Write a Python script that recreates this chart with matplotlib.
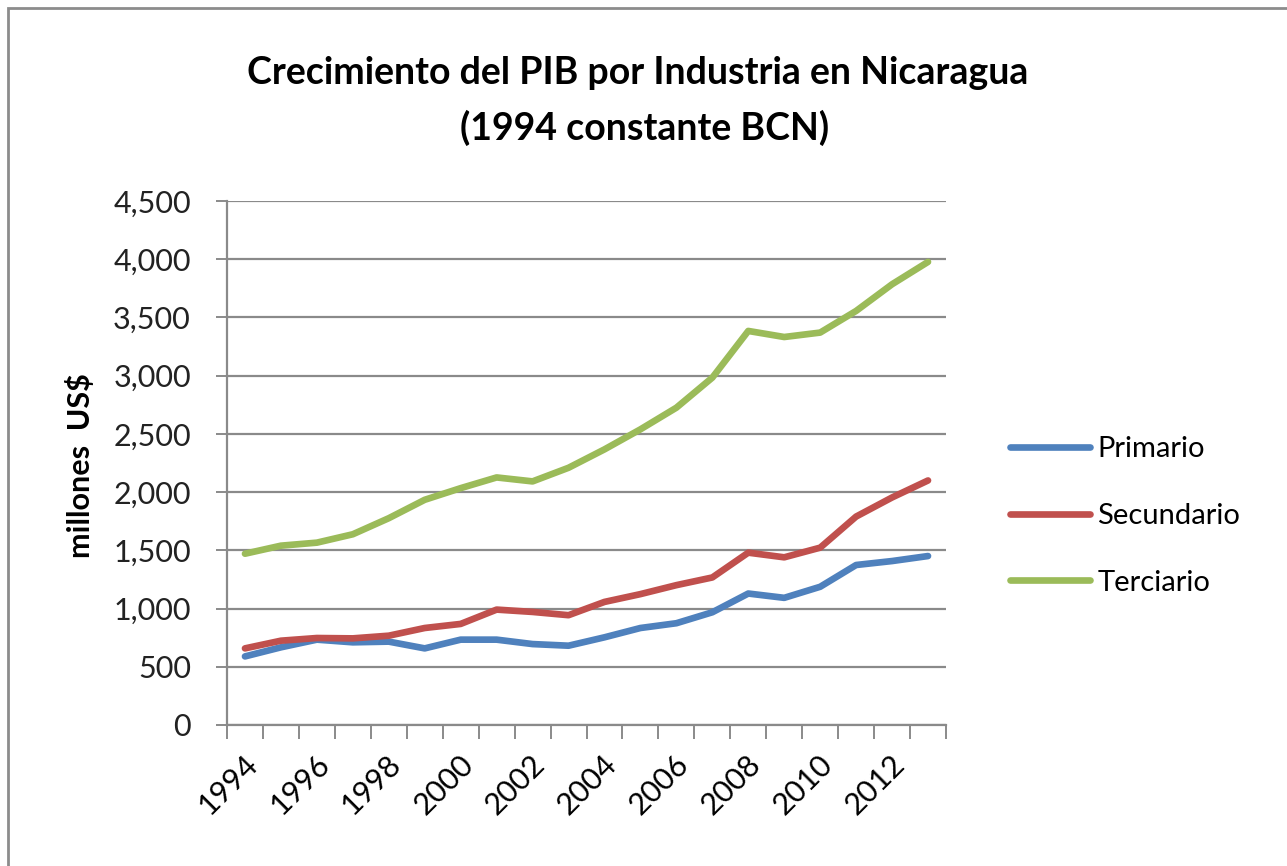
import matplotlib
matplotlib.use("Agg")
import matplotlib.pyplot as plt
import matplotlib.transforms as mtransforms
from matplotlib.patches import Rectangle
from matplotlib.ticker import FuncFormatter

years = list(range(1994, 2014))
primario = [589, 667, 733, 710, 716, 658, 733, 733, 695, 681,
            753, 833, 874, 968, 1129, 1092, 1187, 1374, 1408, 1451]
secundario = [658, 724, 747, 744, 767, 833, 868, 991, 971, 943,
              1057, 1124, 1201, 1267, 1480, 1440, 1523, 1790, 1954, 2100]
terciario = [1471, 1540, 1566, 1638, 1776, 1934, 2034, 2126, 2092, 2209,
             2367, 2539, 2725, 2983, 3384, 3332, 3370, 3556, 3785, 3977]
series = ["Primario", "Secundario", "Terciario"]
colors = ["#4F81BD", "#C0504D", "#9BBB59"]

plt.rcParams['font.family'] = ['Lato', 'DejaVu Sans']
W, H = 1287, 866

fig = plt.figure(figsize=(W / 100, H / 100), dpi=100)
# chart border
fig.patches.append(Rectangle((8 / W, -0.01), 1.02, (H - 8) / H + 0.01,
                             transform=fig.transFigure, fill=False,
                             edgecolor="#8c8c8c", linewidth=2))

ax = fig.add_axes([227 / W, 141 / H, 719 / W, 524 / H])
x = list(range(len(years)))
for name, vals, c in zip(series, [primario, secundario, terciario], colors):
    ax.plot(x, vals, color=c, linewidth=4.8, label=name, solid_capstyle="round")

ax.set_xlim(-0.5, len(years) - 0.5)
ax.set_ylim(0, 4500)
ax.set_yticks(range(0, 4501, 500))
ax.yaxis.set_major_formatter(FuncFormatter(lambda v, p: f"{int(v):,}"))
ax.grid(axis="y", color="#8a8a8a", linewidth=1.6)
ax.set_axisbelow(True)

ax.set_xticks(x[::2])
ax.set_xticklabels([str(y) for y in years[::2]], rotation=45, ha="right",
                   va="center", rotation_mode="anchor", fontsize=22)
ax.set_xticks([i - 0.5 for i in range(len(years) + 1)], minor=True)
ax.tick_params(axis="x", which="major", length=0, pad=25)
ax.tick_params(axis="x", which="minor", length=10, width=1.4, color="#8a8a8a")
ax.tick_params(axis="y", length=8, width=1.4, color="#8a8a8a", labelsize=22,
               pad=18, labelcolor="#222222")
shift = mtransforms.ScaledTranslation(8 / 100, 0, fig.dpi_scale_trans)
for lbl in ax.get_xticklabels():
    lbl.set_transform(lbl.get_transform() + shift)

for s in ["top", "right"]:
    ax.spines[s].set_visible(False)
for s in ["left", "bottom"]:
    ax.spines[s].set_color("#8a8a8a")
    ax.spines[s].set_linewidth(1.6)

fig.text(80 / W, 1 - 466 / H, "millones  US$", rotation=90, ha="center",
         va="center", fontsize=22, fontweight="bold")

fig.text(638 / W, 1 - 73 / H, "Crecimiento del PIB por Industria en Nicaragua",
         ha="center", va="center", fontsize=27, fontweight="bold")
fig.text(645 / W, 1 - 128 / H, "(1994 constante BCN)",
         ha="center", va="center", fontsize=27, fontweight="bold")

ax.legend(loc="upper left", bbox_to_anchor=(1010 / W, 1 - 436 / H),
          bbox_transform=fig.transFigure, frameon=False, borderpad=0,
          borderaxespad=0, fontsize=21, handlelength=2.75, labelspacing=1.4,
          handletextpad=0.25)

fig.savefig("out.png", dpi=100)
